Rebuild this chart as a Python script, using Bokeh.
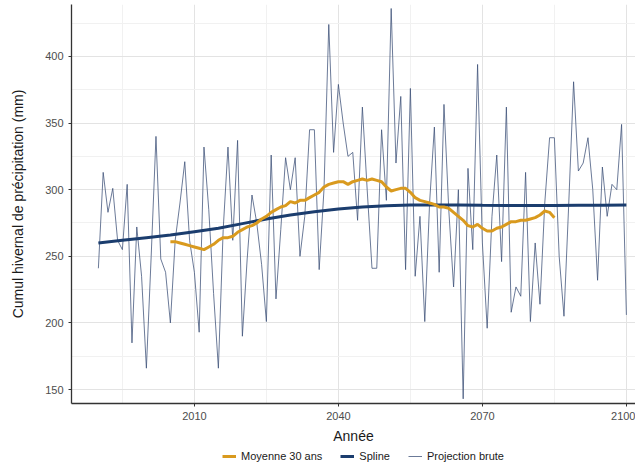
from bokeh.plotting import figure
from bokeh.models import Range1d, FixedTicker, Legend, LegendItem
from bokeh.layouts import column
from bokeh.embed import file_html
from bokeh.resources import INLINE

years_raw = list(range(1990, 2101))
raw_values = [
    241, 313, 283, 301, 262, 255, 304, 185, 272, 235,
    166, 250, 340, 248, 238, 200, 262, 290, 321, 262,
    238, 193, 332, 285, 222, 166, 270, 332, 262, 337,
    190, 248, 296, 275, 244, 201, 326, 218, 270, 324,
    300, 324, 250, 280, 345, 345, 240, 300, 424, 328,
    379, 350, 325, 328, 277, 362, 300, 241, 241, 345,
    292, 436, 320, 370, 240, 376, 235, 280, 201, 290,
    347, 238, 364, 285, 227, 300, 143, 316, 255, 394,
    260, 196, 280, 326, 246, 362, 208, 227, 220, 313,
    201, 260, 214, 290, 339, 339, 250, 205, 290, 381,
    314, 320, 339, 300, 232, 317, 280, 304, 300, 349,
    206,
]

years_mean = list(range(2005, 2086))
mean_values = [
    261, 261, 260, 259, 258, 257, 256, 255, 257, 259,
    262, 264, 264, 265, 268, 270, 272, 273, 275, 278,
    280, 283, 285, 287, 288, 291, 290, 292, 292, 294,
    296, 298, 302, 304, 305, 306, 306, 304, 306, 307,
    308, 307, 308, 307, 306, 302, 299, 300, 301, 301,
    298, 294, 292, 291, 290, 289, 287, 287, 286, 283,
    280, 277, 273, 272, 274, 271, 269, 269, 271, 272,
    274, 276, 276, 277, 277, 278, 279, 281, 284, 283,
    279,
]

years_spline = list(range(1990, 2101, 5))
spline_values = [
    260, 262, 264, 266, 268.5, 271, 274.5, 278, 281, 283.5,
    285.5, 287, 288, 288.5, 288.5, 288.5, 288.3, 288.2, 288.2, 288.2,
    288.3, 288.4, 288.5,
]

x_major = [2010, 2040, 2070, 2100]
x_minor = [1995, 2025, 2055, 2085]
y_major = [150, 200, 250, 300, 350, 400]
y_minor = [175, 225, 275, 325, 375, 425]

legend_labels = ["Moyenne 30 ans", "Spline", "Projection brute"]

FONT = "Liberation Sans"
C_RAW, C_SPLINE, C_MEAN = "#3c5078", "#1b3d6e", "#d99a1e"
NAN = float("nan")

p = figure(
    frame_width=564, frame_height=399,
    output_backend="svg", toolbar_location=None,
    x_range=Range1d(1984.4, 2101.9),
    y_range=Range1d(139.5, 439),
    min_border_left=71, min_border_right=0, min_border_top=4, min_border_bottom=38,
    background_fill_color="white",
)
p.outline_line_color = None

p.line(years_raw, raw_values, line_color=C_RAW, line_width=0.9, line_alpha=0.85)
p.line(years_spline, spline_values, line_color=C_SPLINE, line_width=3)
p.line(years_mean, mean_values, line_color=C_MEAN, line_width=3)

p.xaxis.ticker = FixedTicker(ticks=x_major, minor_ticks=x_minor)
p.yaxis.ticker = FixedTicker(ticks=y_major, minor_ticks=y_minor)

for ax in (p.xaxis, p.yaxis):
    ax.axis_line_color = "#333333"
    ax.axis_line_width = 1.3
    ax.major_tick_line_color = "#333333"
    ax.major_tick_out = 3
    ax.major_tick_in = 0
    ax.minor_tick_line_color = None
    ax.major_label_text_font = FONT
    ax.major_label_text_font_size = "11px"
    ax.major_label_text_color = "#4d4d4d"
    ax.axis_label_text_font = FONT
    ax.axis_label_text_font_size = "14px"
    ax.axis_label_text_font_style = "normal"
    ax.axis_label_text_color = "#1a1a1a"

p.xaxis.axis_label = "Année"
p.yaxis.axis_label = "Cumul hivernal de précipitation (mm)"
p.xaxis.major_label_standoff = 4
p.yaxis.major_label_standoff = 4
p.xaxis.axis_label_standoff = 5
p.yaxis.axis_label_standoff = 16

p.xgrid.grid_line_color = "#e3e3e3"
p.ygrid.grid_line_color = "#e3e3e3"
p.xgrid.minor_grid_line_color = "#f1f1f1"
p.ygrid.minor_grid_line_color = "#f1f1f1"

# Legend strip below the chart (legend-only renderers hold no visible data)
q = figure(
    width=635, height=22,
    output_backend="svg", toolbar_location=None,
    x_range=Range1d(0, 1), y_range=Range1d(0, 1),
    min_border=0, background_fill_color="white",
)
q.outline_line_color = None
q.axis.visible = False
q.grid.visible = False
k_mean = q.line([NAN], [NAN], line_color=C_MEAN, line_width=3)
k_spline = q.line([NAN], [NAN], line_color=C_SPLINE, line_width=3)
k_raw = q.line([NAN], [NAN], line_color=C_RAW, line_width=0.9, line_alpha=0.85)

legend = Legend(
    items=[
        LegendItem(label=legend_labels[0], renderers=[k_mean]),
        LegendItem(label=legend_labels[1], renderers=[k_spline]),
        LegendItem(label=legend_labels[2], renderers=[k_raw]),
    ],
    orientation="horizontal",
    location=(151, 6),
    label_text_font=FONT,
    label_text_font_size="11px",
    label_text_color="#1a1a1a",
    label_height=12,
    glyph_width=14,
    glyph_height=10,
    label_standoff=5,
    spacing=18,
    padding=0,
    margin=0,
    border_line_color=None,
    background_fill_alpha=0,
)
q.add_layout(legend, "center")

layout = column(p, q, spacing=0)
open("out.html", "w").write(file_html(layout, INLINE))
